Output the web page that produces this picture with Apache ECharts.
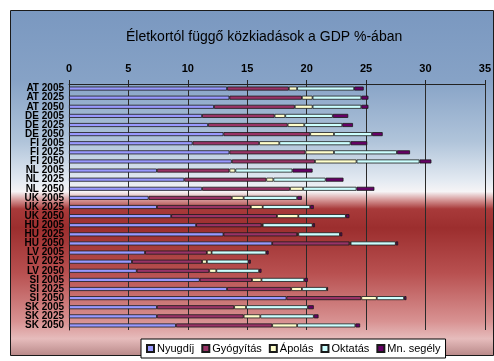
<!DOCTYPE html>
<html>
<head>
<meta charset="utf-8">
<script src="https://cdn.jsdelivr.net/npm/echarts@6/dist/echarts.min.js"></script>
<style>
  html, body { margin: 0; padding: 0; background: #ffffff; }
  #chart { width: 494px; height: 361px; }
</style>
</head>
<body>
<div id="chart"></div>
<script>
// Country / year rows, top to bottom
const categories = [
  'AT 2005', 'AT 2025', 'AT 2050',
  'DE 2005', 'DE 2025', 'DE 2050',
  'FI 2005', 'FI 2025', 'FI 2050',
  'NL 2005', 'NL 2025', 'NL 2050',
  'UK 2005', 'UK 2025', 'UK 2050',
  'HU 2005', 'HU 2025', 'HU 2050',
  'LV 2005', 'LV 2025', 'LV 2050',
  'SI 2005', 'SI 2025', 'SI 2050',
  'SK 2005', 'SK 2025', 'SK 2050'
];

// Spending components, % of GDP
const nyugdij = [13.3, 13.5, 12.2, 11.2, 11.7, 13.0, 10.4, 13.5, 13.7, 7.4, 9.7, 11.2, 6.7, 7.4, 8.6, 10.7, 13.0, 17.1, 6.4, 5.3, 5.7, 11.0, 13.3, 18.3, 7.4, 7.4, 9.0];
const gyogyitas = [5.2, 6.1, 6.8, 6.1, 6.7, 7.3, 5.6, 6.4, 7.0, 6.1, 6.9, 7.4, 7.0, 7.9, 8.9, 5.5, 6.2, 6.5, 5.2, 5.9, 6.1, 4.4, 5.4, 6.3, 6.5, 7.3, 8.1];
const apolas = [0.7, 0.9, 1.5, 0.9, 1.4, 2.0, 1.7, 2.4, 3.5, 0.5, 0.6, 1.1, 1.0, 1.0, 1.8, 0.1, 0.1, 0.1, 0.4, 0.4, 0.6, 0.8, 0.9, 1.3, 1.0, 1.4, 2.1];
const oktatas = [4.8, 4.1, 4.1, 4.0, 3.2, 3.2, 6.0, 5.3, 5.3, 4.8, 4.4, 4.5, 4.5, 4.0, 4.0, 4.2, 3.5, 3.8, 4.6, 3.5, 3.6, 3.6, 2.1, 2.3, 5.2, 4.5, 4.9];
const mnSegely = [0.8, 0.6, 0.6, 1.3, 0.9, 0.9, 1.4, 1.1, 1.0, 1.7, 1.5, 1.5, 0.4, 0.3, 0.3, 0.2, 0.2, 0.2, 0.2, 0.2, 0.2, 0.3, 0.1, 0.2, 0.5, 0.4, 0.4];

const xTicks = { min: 0, max: 35, step: 5 };

const seriesDefs = [
  { name: 'Nyugdíj', data: nyugdij, color: '#9999ff' },
  { name: 'Gyógyítás', data: gyogyitas, color: '#993366' },
  { name: 'Ápolás', data: apolas, color: '#ffffcc' },
  { name: 'Oktatás', data: oktatas, color: '#ccffff' },
  { name: 'Mn. segély', data: mnSegely, color: '#660066' }
];

const chart = echarts.init(document.getElementById('chart'), null, { renderer: 'canvas' });

// Chart-area fill: steel blue fading to white, then deep red easing to pink
const frameFill = {
  type: 'linear', x: 0, y: 0, x2: 0, y2: 1,
  colorStops: [
    { offset: 0.00, color: '#7a98c0' },
    { offset: 0.20, color: '#86a2c6' },
    { offset: 0.38, color: '#b0c4da' },
    { offset: 0.49, color: '#e2e9f1' },
    { offset: 0.525, color: '#f6f4f6' },
    { offset: 0.55, color: '#d49494' },
    { offset: 0.575, color: '#a83a3a' },
    { offset: 0.63, color: '#9c2e2e' },
    { offset: 0.76, color: '#b85050' },
    { offset: 0.90, color: '#d89292' },
    { offset: 0.95, color: '#e6bcbc' },
    { offset: 1.00, color: '#b88888' }
  ]
};

chart.setOption({
  animation: false,
  backgroundColor: '#ffffff',
  graphic: [{
    type: 'rect',
    z: -10,
    shape: { x: 10.5, y: 10.5, width: 483, height: 345 },
    style: { fill: frameFill, stroke: '#1a1a1a', lineWidth: 1 }
  }],
  title: {
    text: 'Életkortól függő közkiadások a GDP %-ában',
    left: 121,
    top: 25,
    textStyle: { fontFamily: 'Liberation Sans, Arial, sans-serif', fontSize: 14, fontWeight: 'normal', color: '#000' }
  },
  legend: {
    bottom: 3,
    left: 141,
    itemWidth: 7,
    itemHeight: 7,
    itemGap: 7,
    padding: [4, 5, 4, 5],
    backgroundColor: '#ffffff',
    borderColor: '#000000',
    borderWidth: 1,
    borderRadius: 0,
    icon: 'rect',
    textStyle: { fontFamily: 'Liberation Sans, Arial, sans-serif', fontSize: 11, color: '#000', padding: [0, 0, 0, -2] },
    data: seriesDefs.map(s => s.name)
  },
  grid: { left: 69, top: 84, width: 416, height: 246, containLabel: false },
  xAxis: {
    type: 'value',
    position: 'top',
    min: xTicks.min,
    max: xTicks.max,
    interval: xTicks.step,
    axisLine: { show: true, lineStyle: { color: '#222', width: 1 } },
    axisTick: { show: true, length: 4, lineStyle: { color: '#222' } },
    axisLabel: { margin: 10, fontFamily: 'Liberation Sans, Arial, sans-serif', fontSize: 11, fontWeight: 'bold', color: '#000' },
    splitLine: { show: true, lineStyle: { color: '#2a2a2a', width: 1 } }
  },
  yAxis: {
    type: 'category',
    inverse: true,
    data: categories,
    axisLine: { show: true, lineStyle: { color: '#222', width: 1 } },
    axisTick: { show: false },
    axisLabel: {
      interval: 0,
      margin: 5,
      fontFamily: 'Liberation Sans, Arial, sans-serif',
      fontSize: 10,
      fontWeight: 'bold',
      color: '#000'
    }
  },
  series: seriesDefs.map(s => ({
    name: s.name,
    type: 'bar',
    stack: 'total',
    barWidth: 4,
    data: s.data,
    itemStyle: { color: s.color, borderColor: '#1a1a1a', borderWidth: 0.8 }
  }))
});
</script>
</body>
</html>
